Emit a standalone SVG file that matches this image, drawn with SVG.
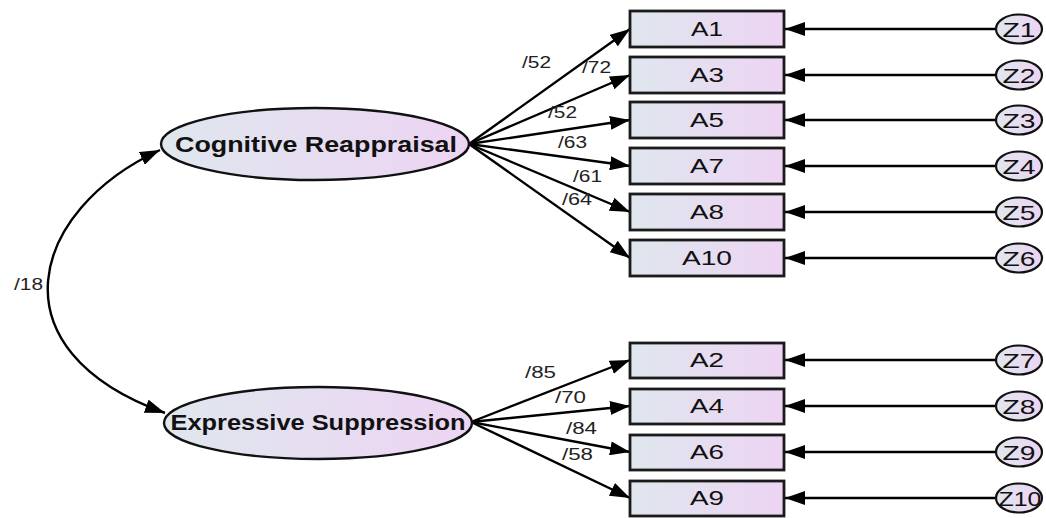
<svg xmlns="http://www.w3.org/2000/svg" width="1046" height="518" viewBox="0 0 1046 518">
<defs>
<linearGradient id="g" x1="0" y1="0" x2="1" y2="0">
<stop offset="0" stop-color="#dfe7ee"/>
<stop offset="1" stop-color="#edd4f3"/>
</linearGradient>
<marker id="ah" markerUnits="userSpaceOnUse" markerWidth="20" markerHeight="14" refX="20" refY="7" orient="auto-start-reverse" viewBox="0 0 20 14">
<path d="M0,0 L20,7 L0,14 z" fill="#000"/>
</marker>
<style>
.box{fill:url(#g);stroke:#1a1a1a;stroke-width:2.8}
.lat{fill:url(#g);stroke:#111;stroke-width:2.4}
.z{fill:url(#g);stroke:#111;stroke-width:2.2}
.ln{fill:none;stroke:#000;stroke-width:2.4;marker-end:url(#ah)}
.t{font-family:"Liberation Sans",Arial,sans-serif;fill:#111;text-anchor:middle}
.big{font-size:22px;font-weight:bold}
.bx{font-size:20px}
.zt{font-size:21px}
.lb{font-family:"Liberation Sans",Arial,sans-serif;font-size:16px;fill:#222}
</style>
</defs>
<g id="connectors">
<path class="ln" d="M160,150 C30,210 -10,350 165,413" style="marker-start:url(#ah)"/>
<line class="ln" x1="469" y1="144" x2="630" y2="29"/>
<line class="ln" x1="469" y1="144" x2="630" y2="75"/>
<line class="ln" x1="469" y1="144" x2="630" y2="120"/>
<line class="ln" x1="469" y1="144" x2="630" y2="166"/>
<line class="ln" x1="469" y1="144" x2="630" y2="212"/>
<line class="ln" x1="469" y1="144" x2="630" y2="258"/>
<line class="ln" x1="471" y1="422" x2="630" y2="360"/>
<line class="ln" x1="471" y1="422" x2="630" y2="406"/>
<line class="ln" x1="471" y1="422" x2="630" y2="452"/>
<line class="ln" x1="471" y1="422" x2="630" y2="498"/>
<line class="ln" x1="995" y1="29" x2="785" y2="29"/>
<line class="ln" x1="995" y1="75" x2="785" y2="75"/>
<line class="ln" x1="995" y1="120" x2="785" y2="120"/>
<line class="ln" x1="995" y1="166" x2="785" y2="166"/>
<line class="ln" x1="995" y1="212" x2="785" y2="212"/>
<line class="ln" x1="995" y1="258" x2="785" y2="258"/>
<line class="ln" x1="995" y1="360" x2="785" y2="360"/>
<line class="ln" x1="995" y1="406" x2="785" y2="406"/>
<line class="ln" x1="995" y1="452" x2="785" y2="452"/>
<line class="ln" x1="995" y1="498" x2="785" y2="498"/>
<text class="lb" x="14" y="290" textLength="29" lengthAdjust="spacingAndGlyphs">/18</text>
<text class="lb" x="522" y="68" textLength="29" lengthAdjust="spacingAndGlyphs">/52</text>
<text class="lb" x="582" y="73" textLength="29" lengthAdjust="spacingAndGlyphs">/72</text>
<text class="lb" x="548" y="118" textLength="29" lengthAdjust="spacingAndGlyphs">/52</text>
<text class="lb" x="558" y="148" textLength="29" lengthAdjust="spacingAndGlyphs">/63</text>
<text class="lb" x="573" y="182" textLength="29" lengthAdjust="spacingAndGlyphs">/61</text>
<text class="lb" x="562" y="205" textLength="30" lengthAdjust="spacingAndGlyphs">/64</text>
<text class="lb" x="525" y="378" textLength="31" lengthAdjust="spacingAndGlyphs">/85</text>
<text class="lb" x="555" y="403" textLength="31" lengthAdjust="spacingAndGlyphs">/70</text>
<text class="lb" x="566" y="434" textLength="31" lengthAdjust="spacingAndGlyphs">/84</text>
<text class="lb" x="562" y="460" textLength="31" lengthAdjust="spacingAndGlyphs">/58</text>
</g>
<g id="cognitive">
<ellipse class="lat" cx="315" cy="144" rx="154" ry="36"/>
<text class="t big" x="316" y="152" textLength="282" lengthAdjust="spacingAndGlyphs">Cognitive Reappraisal</text>
</g>
<g id="expressive">
<ellipse class="lat" cx="318" cy="423" rx="154" ry="36"/>
<text class="t big" x="318" y="430" textLength="295" lengthAdjust="spacingAndGlyphs">Expressive Suppression</text>
</g>
<g id="A1"><rect class="box" x="630" y="11" width="154" height="36"/><text class="t bx" x="707" y="36" textLength="32" lengthAdjust="spacingAndGlyphs">A1</text></g>
<g id="A3"><rect class="box" x="630" y="57" width="154" height="36"/><text class="t bx" x="707" y="82" textLength="34" lengthAdjust="spacingAndGlyphs">A3</text></g>
<g id="A5"><rect class="box" x="630" y="102" width="154" height="36"/><text class="t bx" x="707" y="127" textLength="34" lengthAdjust="spacingAndGlyphs">A5</text></g>
<g id="A7"><rect class="box" x="630" y="148" width="154" height="36"/><text class="t bx" x="707" y="173" textLength="34" lengthAdjust="spacingAndGlyphs">A7</text></g>
<g id="A8"><rect class="box" x="630" y="194" width="154" height="36"/><text class="t bx" x="707" y="219" textLength="34" lengthAdjust="spacingAndGlyphs">A8</text></g>
<g id="A10"><rect class="box" x="630" y="240" width="154" height="36"/><text class="t bx" x="707" y="265" textLength="50" lengthAdjust="spacingAndGlyphs">A10</text></g>
<g id="A2"><rect class="box" x="630" y="343" width="154" height="35"/><text class="t bx" x="707" y="367" textLength="34" lengthAdjust="spacingAndGlyphs">A2</text></g>
<g id="A4"><rect class="box" x="630" y="389" width="154" height="35"/><text class="t bx" x="707" y="413" textLength="34" lengthAdjust="spacingAndGlyphs">A4</text></g>
<g id="A6"><rect class="box" x="630" y="435" width="154" height="35"/><text class="t bx" x="707" y="459" textLength="34" lengthAdjust="spacingAndGlyphs">A6</text></g>
<g id="A9"><rect class="box" x="630" y="481" width="154" height="35"/><text class="t bx" x="707" y="505" textLength="34" lengthAdjust="spacingAndGlyphs">A9</text></g>
<g id="Z1"><ellipse class="z" cx="1019" cy="29" rx="23" ry="14.5"/><text class="t zt" x="1019" y="36.5" textLength="33" lengthAdjust="spacingAndGlyphs">Z1</text></g>
<g id="Z2"><ellipse class="z" cx="1019" cy="75" rx="23" ry="14.5"/><text class="t zt" x="1019" y="82.5" textLength="33" lengthAdjust="spacingAndGlyphs">Z2</text></g>
<g id="Z3"><ellipse class="z" cx="1019" cy="120" rx="23" ry="14.5"/><text class="t zt" x="1019" y="127.5" textLength="33" lengthAdjust="spacingAndGlyphs">Z3</text></g>
<g id="Z4"><ellipse class="z" cx="1019" cy="166" rx="23" ry="14.5"/><text class="t zt" x="1019" y="173.5" textLength="33" lengthAdjust="spacingAndGlyphs">Z4</text></g>
<g id="Z5"><ellipse class="z" cx="1019" cy="212" rx="23" ry="14.5"/><text class="t zt" x="1019" y="219.5" textLength="33" lengthAdjust="spacingAndGlyphs">Z5</text></g>
<g id="Z6"><ellipse class="z" cx="1019" cy="258" rx="23" ry="14.5"/><text class="t zt" x="1019" y="265.5" textLength="33" lengthAdjust="spacingAndGlyphs">Z6</text></g>
<g id="Z7"><ellipse class="z" cx="1019" cy="360" rx="23" ry="14.5"/><text class="t zt" x="1019" y="367.5" textLength="33" lengthAdjust="spacingAndGlyphs">Z7</text></g>
<g id="Z8"><ellipse class="z" cx="1019" cy="406" rx="23" ry="14.5"/><text class="t zt" x="1019" y="413.5" textLength="33" lengthAdjust="spacingAndGlyphs">Z8</text></g>
<g id="Z9"><ellipse class="z" cx="1019" cy="452" rx="23" ry="14.5"/><text class="t zt" x="1019" y="459.5" textLength="33" lengthAdjust="spacingAndGlyphs">Z9</text></g>
<g id="Z10"><ellipse class="z" cx="1019" cy="498" rx="23" ry="14.5"/><text class="t zt" x="1020" y="505.5" textLength="43" lengthAdjust="spacingAndGlyphs">Z10</text></g>
</svg>
